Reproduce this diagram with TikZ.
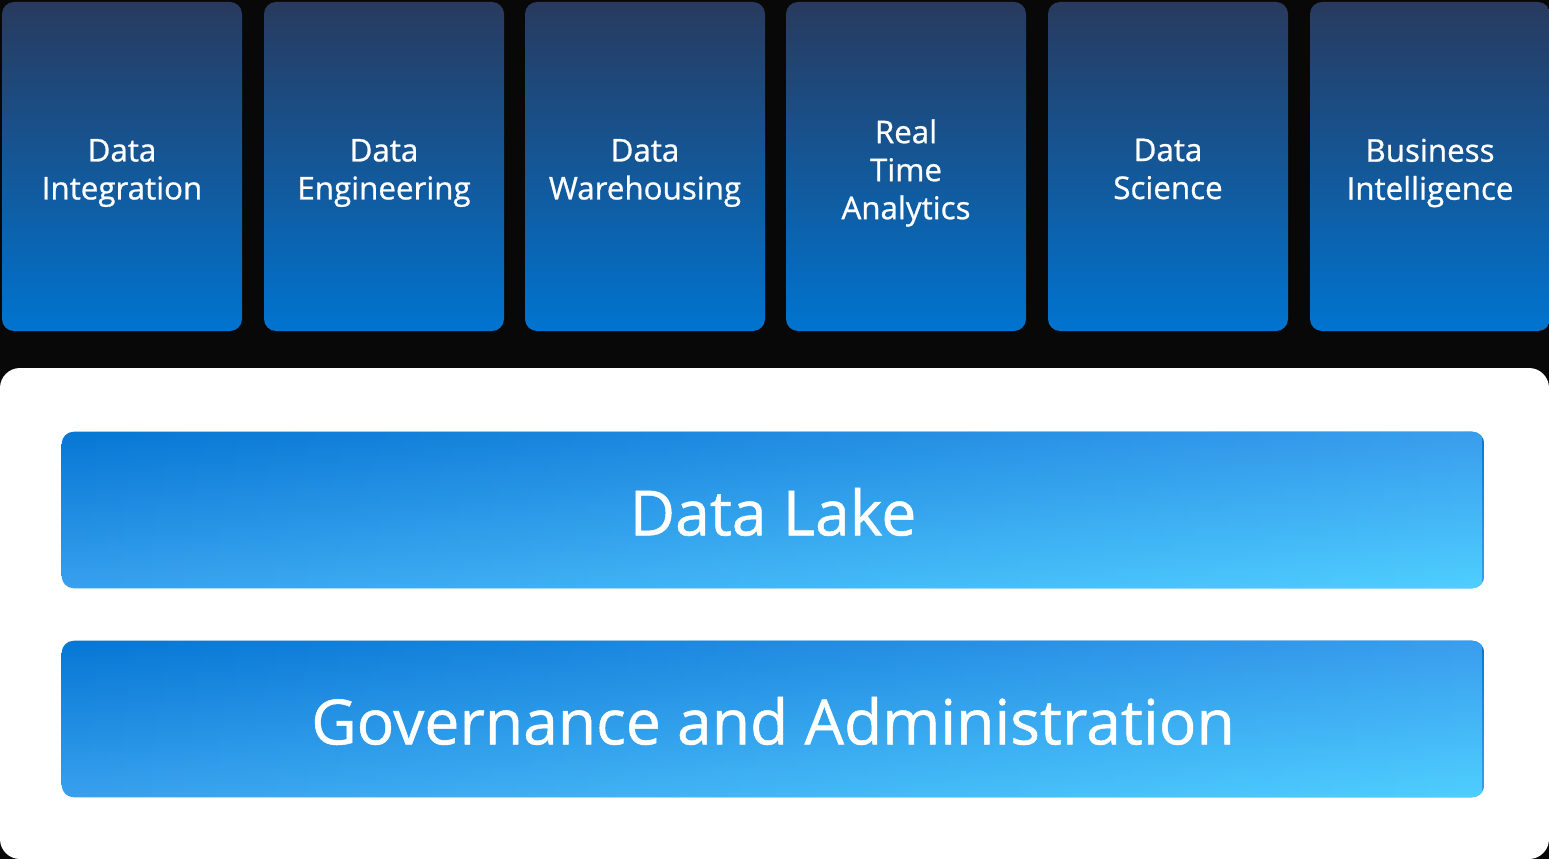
\documentclass[tikz,border=0pt]{standalone}
\usepackage{fontspec}
\usetikzlibrary{fadings}
\setmainfont{Open Sans}[FakeBold=0.8]
\newfontfamily\semib{Open Sans}[FakeBold=0.8]
\definecolor{bgblack}{HTML}{080808}
\definecolor{cardtop}{HTML}{283A5E}
\definecolor{cardmid}{HTML}{1A4E8A}
\definecolor{cardbot}{HTML}{0074D0}
\definecolor{barLT}{HTML}{0677D4}
\definecolor{barLB}{HTML}{38A0EE}
\definecolor{barRT}{HTML}{3A9EEE}
\definecolor{barRB}{HTML}{4FCFFF}
\tikzfading[name=fadefromleft, left color=transparent!100, right color=transparent!0]
\tikzset{
  card/.style={rounded corners=9pt, minimum width=180pt, minimum height=246.75pt,
    top color=cardtop, middle color=cardmid, bottom color=cardbot, inner sep=0pt},
  cardtext/.style={text=white, align=center, font=\semib\fontsize{23.5pt}{28.5pt}\selectfont},
  bar/.style={minimum width=1066.5pt, minimum height=117pt, inner sep=0pt},
  barbase/.style={top color=barLT, bottom color=barLB},
  baroverlay/.style={top color=barRT, bottom color=barRB, path fading=fadefromleft},
  bartext/.style={text=white, font=\semib\fontsize{46.8pt}{56pt}\selectfont},
  panel/.style={fill=white, rounded corners=15pt}
}
\begin{document}
\begin{tikzpicture}[x=0.75pt,y=-0.75pt]
\useasboundingbox (0,0) rectangle (1549,859);
\fill[bgblack] (0,0) rectangle (1549,859);
\foreach \cx/\ty/\nm/\txt in {122/173/di/{Data\\Integration},384/173/de/{Data\\Engineering},645/173/dw/{Data\\Warehousing},906/173/rt/{Real\\Time\\Analytics},1168/169/ds/{Data\\Science},1430/173/bi/{Business\\Intelligence}}{
  \node[card] (\nm) at (\cx,166.5) {};
  \node[cardtext] (\nm-t) at (\cx,\ty) {\txt};
}
\path[panel] (0,368) rectangle (1549,859);
\foreach \nm/\cy/\txt in {lake/510/{Data Lake},gov/719/{Governance and Administration}}{
  \node[bar] (\nm) at (773,\cy) {};
  \begin{scope}
    \clip[rounded corners=9pt] (\nm.south west) rectangle (\nm.north east);
    \path[barbase] (\nm.south west) rectangle (\nm.north east);
    \path[baroverlay] (\nm.south west) rectangle (\nm.north east);
  \end{scope}
  \node[bartext] (\nm-t) at (773,\cy+2) {\txt};
}
\end{tikzpicture}
\end{document}
